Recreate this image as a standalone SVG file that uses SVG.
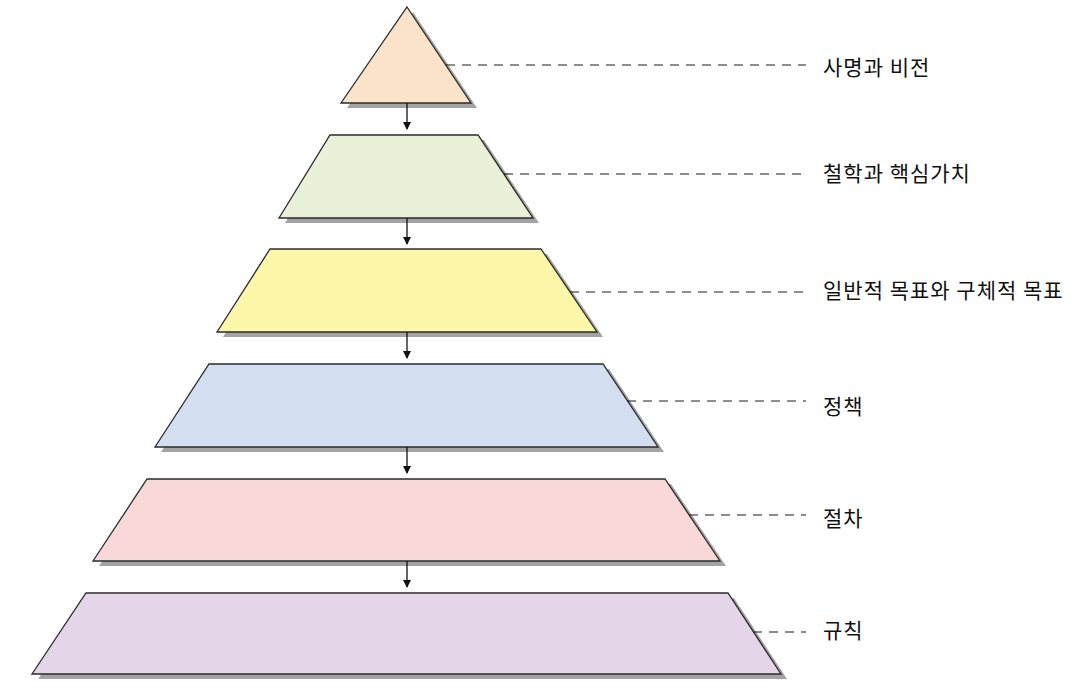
<svg xmlns="http://www.w3.org/2000/svg" width="1074" height="698" viewBox="0 0 1074 698">
<defs>
<style>
.shadow{fill:#a3a3a3;stroke:none}
.shape{stroke:#2b2b2b;stroke-width:1.3;stroke-linejoin:miter}
.dash{stroke:#1a1a1a;stroke-width:1.2;stroke-dasharray:9 7;fill:none}
.arrow{stroke:#111;stroke-width:1.3;fill:none;marker-end:url(#ah)}
.label{font-family:"Noto Sans CJK KR","Noto Sans",sans-serif;font-size:21px;letter-spacing:1px;fill:#111}
</style>
<marker id="ah" markerWidth="8" markerHeight="10" refX="7" refY="4" orient="auto" markerUnits="userSpaceOnUse" viewBox="0 0 8 8">
<path d="M0,0 L8,4 L0,8 Z" fill="#111"/>
</marker>
</defs>
<rect width="1074" height="698" fill="#fff"/>

<g id="node1">
<polygon class="shadow" points="413,12 477,108 347,108"/>
<polygon class="shape" fill="#fbe3c9" points="407,7 471,103 341,103"/>
</g>
<g id="node2">
<polygon class="shadow" points="336,140 484,140 539,223 285,223"/>
<polygon class="shape" fill="#e9f1d9" points="330,135 478,135 533,218 279,218"/>
</g>
<g id="node3">
<polygon class="shadow" points="276,254 547,254 603,337 223,337"/>
<polygon class="shape" fill="#fdf7aa" points="270,249 541,249 597,332 217,332"/>
</g>
<g id="node4">
<polygon class="shadow" points="215,369 609,369 664,452 161,452"/>
<polygon class="shape" fill="#d3dff1" points="209,364 603,364 658,447 155,447"/>
</g>
<g id="node5">
<polygon class="shadow" points="153,484 671,484 726,566 99,566"/>
<polygon class="shape" fill="#f9d9d8" points="147,479 665,479 720,561 93,561"/>
</g>
<g id="node6">
<polygon class="shadow" points="92,598 734,598 787,679 38,679"/>
<polygon class="shape" fill="#e4d5e8" points="86,593 728,593 781,674 32,674"/>
</g>

<g id="connectors">
<line class="arrow" x1="407" y1="103" x2="407" y2="129"/>
<line class="arrow" x1="407" y1="218" x2="407" y2="244"/>
<line class="arrow" x1="407" y1="332" x2="407" y2="358"/>
<line class="arrow" x1="407" y1="447" x2="407" y2="473"/>
<line class="arrow" x1="407" y1="561" x2="407" y2="587"/>
<line class="dash" x1="446" y1="65" x2="806" y2="65"/>
<line class="dash" x1="504" y1="174" x2="806" y2="174"/>
<line class="dash" x1="570" y1="292" x2="806" y2="292"/>
<line class="dash" x1="627" y1="401" x2="806" y2="401"/>
<line class="dash" x1="689" y1="515" x2="806" y2="515"/>
<line class="dash" x1="753" y1="632" x2="806" y2="632"/>
</g>

<g id="labels">
<text class="label" x="823" y="75">사명과 비전</text>
<text class="label" x="823" y="181">철학과 핵심가치</text>
<text class="label" x="823" y="298">일반적 목표와 구체적 목표</text>
<text class="label" x="823" y="414">정책</text>
<text class="label" x="823" y="526">절차</text>
<text class="label" x="823" y="638">규칙</text>
</g>
</svg>
